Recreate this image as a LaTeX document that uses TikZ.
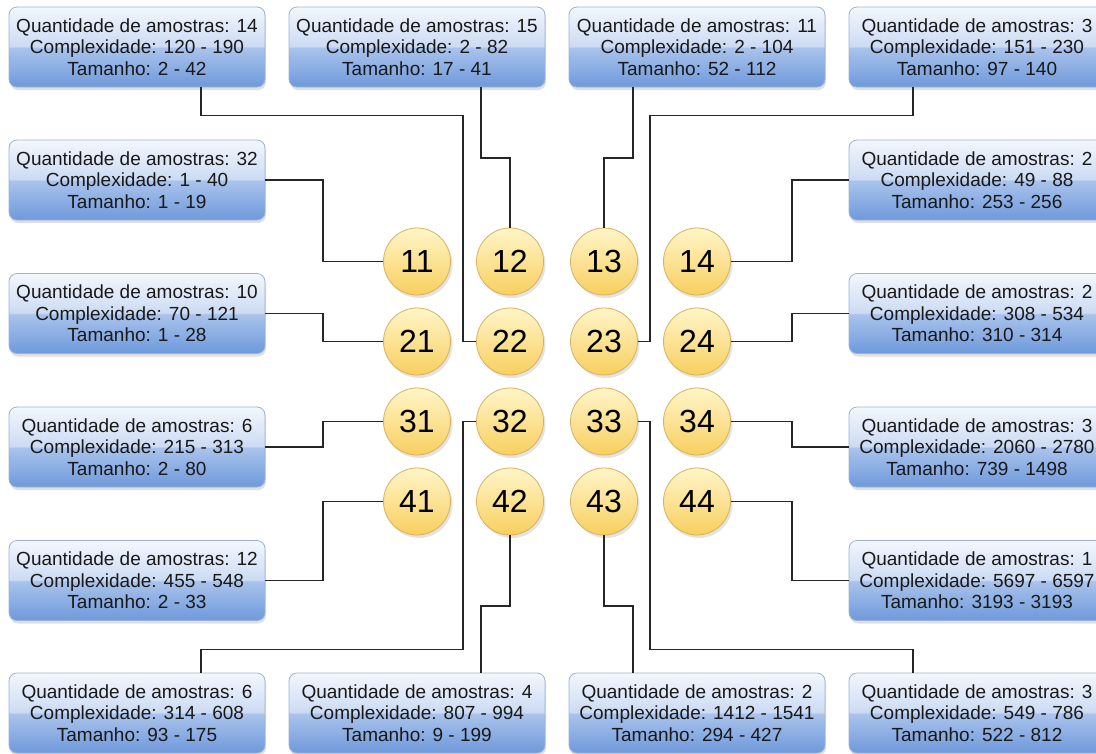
\documentclass[tikz,border=0pt]{standalone}
\usepackage{fontspec}
\setmainfont{Liberation Sans}
\usetikzlibrary{shadows}

\definecolor{boxtop}{HTML}{F3F7FD}
\definecolor{boxmid}{HTML}{CCDBF3}
\definecolor{boxmidlow}{HTML}{A9C3EC}
\definecolor{boxlow}{HTML}{6E99DB}
\definecolor{boxline}{HTML}{9DB2D2}
\definecolor{balltop}{HTML}{FFF5C8}
\definecolor{balllow}{HTML}{F8CF5E}
\definecolor{ballline}{HTML}{D6B25C}

\pgfdeclareverticalshading{glossy}{100bp}{color(0bp)=(boxlow); color(25bp)=(boxlow); color(49.5bp)=(boxmidlow); color(50.5bp)=(boxmid); color(75bp)=(boxtop); color(100bp)=(boxtop)}

\begin{document}
\begin{tikzpicture}[x=1pt,y=1pt]
		\tikzstyle{every node}+=[inner sep=0pt]
		\tikzstyle{faixa}=[rectangle, rounded corners=8pt, draw=boxline, line width=0.8pt, shading=glossy, minimum width=256pt, minimum height=80pt, align=center, text=black!90, font=\fontsize{19}{21.5}\selectfont, drop shadow={shadow xshift=1pt, shadow yshift=-3pt, fill=black!25}]
		\tikzstyle{grupo}=[circle, draw=ballline, line width=0.8pt, top color=balltop, bottom color=balllow, minimum size=67pt, font=\fontsize{32}{32}\selectfont, drop shadow={shadow xshift=2pt, shadow yshift=-3pt, fill=black!22}]
		\tikzstyle{liga}=[draw=black!85, line width=1.3pt]
		\useasboundingbox (0,0) rectangle (1096,-753);
		\node [grupo] (g11) at (417,-261.5) {11};
		\node [grupo] (g12) at (510,-261.5) {12};
		\node [grupo] (g13) at (604,-261.5) {13};
		\node [grupo] (g14) at (697,-261.5) {14};
		\node [grupo] (g21) at (417,-341.5) {21};
		\node [grupo] (g22) at (510,-341.5) {22};
		\node [grupo] (g23) at (604,-341.5) {23};
		\node [grupo] (g24) at (697,-341.5) {24};
		\node [grupo] (g31) at (417,-421.5) {31};
		\node [grupo] (g32) at (510,-421.5) {32};
		\node [grupo] (g33) at (604,-421.5) {33};
		\node [grupo] (g34) at (697,-421.5) {34};
		\node [grupo] (g41) at (417,-501.5) {41};
		\node [grupo] (g42) at (510,-501.5) {42};
		\node [grupo] (g43) at (604,-501.5) {43};
		\node [grupo] (g44) at (697,-501.5) {44};
		\node [faixa] (b22) at (137,-47) {Quantidade de amostras: 14\\Complexidade: 120 - 190\\Tamanho: 2 - 42};
		\node [faixa] (b12) at (417,-47) {Quantidade de amostras: 15\\Complexidade: 2 - 82\\Tamanho: 17 - 41};
		\node [faixa] (b13) at (697,-47) {Quantidade de amostras: 11\\Complexidade: 2 - 104\\Tamanho: 52 - 112};
		\node [faixa] (b23) at (977,-47) {Quantidade de amostras: 3\\Complexidade: 151 - 230\\Tamanho: 97 - 140};
		\node [faixa] (b11) at (137,-180) {Quantidade de amostras: 32\\Complexidade: 1 - 40\\Tamanho: 1 - 19};
		\node [faixa] (b21) at (137,-313.5) {Quantidade de amostras: 10\\Complexidade: 70 - 121\\Tamanho: 1 - 28};
		\node [faixa] (b31) at (137,-447) {Quantidade de amostras: 6\\Complexidade: 215 - 313\\Tamanho: 2 - 80};
		\node [faixa] (b41) at (137,-580.5) {Quantidade de amostras: 12\\Complexidade: 455 - 548\\Tamanho: 2 - 33};
		\node [faixa] (b14) at (977,-180) {Quantidade de amostras: 2\\Complexidade: 49 - 88\\Tamanho: 253 - 256};
		\node [faixa] (b24) at (977,-313.5) {Quantidade de amostras: 2\\Complexidade: 308 - 534\\Tamanho: 310 - 314};
		\node [faixa] (b34) at (977,-447) {Quantidade de amostras: 3\\Complexidade: 2060 - 2780\\Tamanho: 739 - 1498};
		\node [faixa] (b44) at (977,-580.5) {Quantidade de amostras: 1\\Complexidade: 5697 - 6597\\Tamanho: 3193 - 3193};
		\node [faixa] (b32) at (137,-713) {Quantidade de amostras: 6\\Complexidade: 314 - 608\\Tamanho: 93 - 175};
		\node [faixa] (b42) at (417,-713) {Quantidade de amostras: 4\\Complexidade: 807 - 994\\Tamanho: 9 - 199};
		\node [faixa] (b43) at (697,-713) {Quantidade de amostras: 2\\Complexidade: 1412 - 1541\\Tamanho: 294 - 427};
		\node [faixa] (b33) at (977,-713) {Quantidade de amostras: 3\\Complexidade: 549 - 786\\Tamanho: 522 - 812};
		\coordinate (lbend) at (323,0);
		\coordinate (rbend) at (792,0);
		\coordinate (ileft) at (463,0);
		\coordinate (iright) at (650,0);
		\coordinate (tlane) at (0,-115.5);
		\coordinate (tlane2) at (0,-158);
		\coordinate (blane) at (0,-649.5);
		\coordinate (blane2) at (0,-606);
		\draw [liga] (b11.east) -- (b11.east -| lbend) |- (g11);
		\draw [liga] (b21.east) -- (b21.east -| lbend) |- (g21);
		\draw [liga] (b31.east) -- (b31.east -| lbend) |- (g31);
		\draw [liga] (b41.east) -- (b41.east -| lbend) |- (g41);
		\draw [liga] (b14.west) -- (b14.west -| rbend) |- (g14);
		\draw [liga] (b24.west) -- (b24.west -| rbend) |- (g24);
		\draw [liga] (b34.west) -- (b34.west -| rbend) |- (g34);
		\draw [liga] (b44.west) -- (b44.west -| rbend) |- (g44);
		\draw [liga] ([xshift=64pt]b22.south) |- (ileft |- tlane) |- (g22);
		\draw [liga] ([xshift=64pt]b12.south) |- (g12 |- tlane2) -- (g12);
		\draw [liga] ([xshift=-64pt]b13.south) |- (g13 |- tlane2) -- (g13);
		\draw [liga] ([xshift=-64pt]b23.south) |- (iright |- tlane) |- (g23);
		\draw [liga] ([xshift=64pt]b32.north) |- (ileft |- blane) |- (g32);
		\draw [liga] ([xshift=64pt]b42.north) |- (g42 |- blane2) -- (g42);
		\draw [liga] ([xshift=-64pt]b43.north) |- (g43 |- blane2) -- (g43);
		\draw [liga] ([xshift=-64pt]b33.north) |- (iright |- blane) |- (g33);
	\end{tikzpicture}
\end{document}
